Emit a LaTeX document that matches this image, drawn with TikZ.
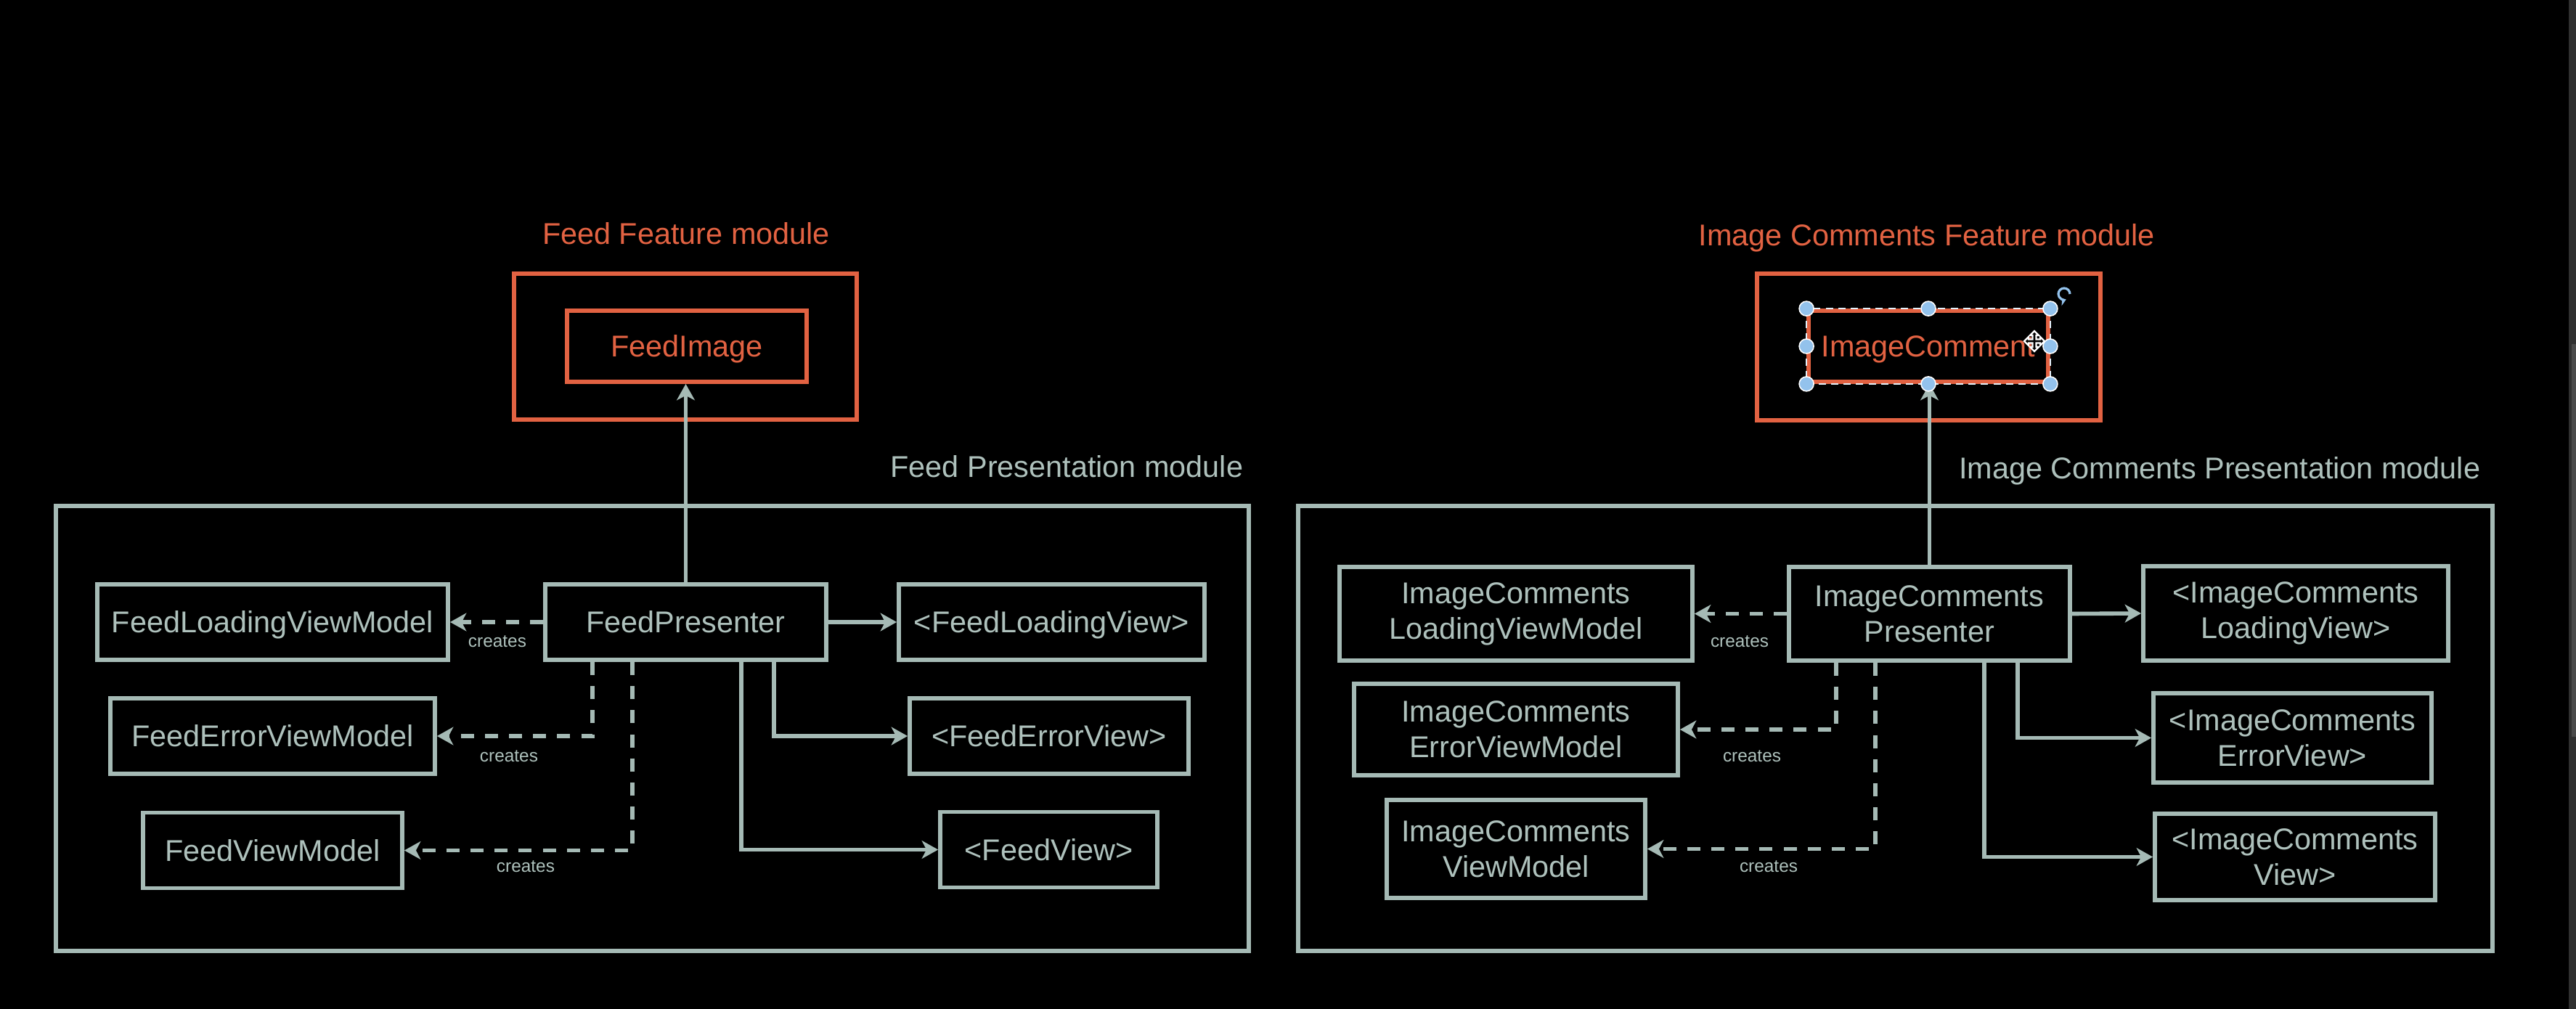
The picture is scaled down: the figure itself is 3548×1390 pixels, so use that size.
\documentclass[tikz,border=0pt]{standalone}
\usepackage{fontspec}
\setmainfont{Liberation Sans}
\usetikzlibrary{arrows.meta,calc}
\definecolor{lc}{HTML}{A5BAB5}
\definecolor{tc}{HTML}{AEC1BC}
\definecolor{oc}{HTML}{E26242}
\definecolor{hc}{HTML}{93C2EC}
\definecolor{sbar}{HTML}{303030}
\definecolor{sthumb}{HTML}{4A4A4A}
\begin{document}
\begin{tikzpicture}[x=0.25pt,y=-0.25pt,
  arrowhd/.style={-{Stealth[length=5.6pt,width=6.2pt,inset=1.6pt]}},
  conn/.style={draw=lc,line width=1.4pt,arrowhd},
  dconn/.style={conn,dash pattern=on 4.5pt off 3.8pt},
  cbox/.style={draw=lc,line width=1.45pt,text=tc,font=\fontsize{10.35}{12.25}\selectfont,align=center,inner sep=0pt},
  obox/.style={cbox,draw=oc,text=oc},
  oneline/.style={text height=7.4pt,text depth=0pt},
  crlbl/.style={text=tc,font=\fontsize{6.1}{7}\selectfont,inner sep=0pt},
  modlbl/.style={font=\fontsize{10.35}{12.25}\selectfont,inner sep=0pt},
  selhandle/.style={fill=hc,draw=white,line width=0.4pt},
]
\fill[black] (0,0) rectangle (3548,1390);
\useasboundingbox (0,0) rectangle (3548,1390);
\fill[sbar] (3538,0) rectangle (3548,1390);
\fill[sthumb] (3542,474) rectangle (3548,1015);

% ---------------- Left: Feed ----------------
\node[modlbl,text=oc,anchor=base] (FFlbl) at (945,337) {Feed Feature module};
\node[obox,minimum width=118pt,minimum height=50.25pt] (FFbox) at (944,477.5) {};
\node[obox,oneline,minimum width=82.5pt,minimum height=24.5pt] (FI) at (946,477) {FeedImage};
\node[modlbl,text=tc,anchor=base east] (FPlbl) at (1713,658) {Feed Presentation module};
\node[cbox,minimum width=410.75pt,minimum height=153.25pt] (FPbox) at (898.5,1003.5) {};

\node[cbox,oneline,minimum width=120.75pt,minimum height=26pt] (FLVM) at (375.5,857) {FeedLoadingViewModel};
\node[cbox,oneline,minimum width=96.75pt,minimum height=26pt] (FP) at (944.5,857) {FeedPresenter};
\node[cbox,oneline,minimum width=105.25pt,minimum height=26pt] (FLV) at (1448.5,857) {<FeedLoadingView>};
\node[cbox,oneline,minimum width=111.75pt,minimum height=26pt] (FEVM) at (375.5,1014) {FeedErrorViewModel};
\node[cbox,oneline,minimum width=96pt,minimum height=26pt] (FEV) at (1445,1014) {<FeedErrorView>};
\node[cbox,oneline,minimum width=89.25pt,minimum height=26pt] (FVM) at (375.5,1171.5) {FeedViewModel};
\node[cbox,oneline,minimum width=74.75pt,minimum height=26pt] (FV) at (1444.5,1170.5) {<FeedView>};

\draw[conn] (FP.north) -- (FP.north |- FI.south);
\draw[conn] (FP.east) -- (FLV.west);
\draw[dconn] (FP.west) -- (FLVM.east);
\draw[dconn] ($(FP.south west)+(68,0)$) |- (FEVM.east);
\draw[dconn] ($(FP.south west)+(123,0)$) |- (FVM.east);
\draw[conn] ($(FP.south west)+(273,0)$) |- (FV.west);
\draw[conn] ($(FP.south west)+(318,0)$) |- (FEV.west);

\node[crlbl] (c1) at (685,884) {creates};
\node[crlbl] (c2) at (701,1042) {creates};
\node[crlbl] (c3) at (724,1194) {creates};

% ---------------- Right: Image Comments ----------------
\node[modlbl,text=oc,anchor=base] (ICFlbl) at (2654,339) {Image Comments Feature module};
\node[obox,minimum width=118.25pt,minimum height=50.5pt] (ICFbox) at (2656.5,478) {};
\node[obox,oneline,minimum width=82.5pt,minimum height=24.5pt] (IC) at (2656,477) {ImageComment};
\node[modlbl,text=tc,anchor=base east] (ICPlbl) at (3417,660) {Image Comments Presentation module};
\node[cbox,minimum width=411.25pt,minimum height=153.25pt] (ICPbox) at (2610.5,1003.5) {};

\node[cbox,minimum width=121.5pt,minimum height=32.25pt] (ICLVM) at (2088,845.5) {ImageComments\\LoadingViewModel};
\node[cbox,minimum width=96.75pt,minimum height=32.25pt] (ICP) at (2657.5,845.5) {ImageComments\\Presenter};
\node[cbox,minimum width=105pt,minimum height=32.5pt] (ICLV) at (3162,845) {<ImageComments\\LoadingView>};
\node[cbox,minimum width=111.5pt,minimum height=31.5pt] (ICEVM) at (2088,1005) {ImageComments\\ErrorViewModel};
\node[cbox,minimum width=95.75pt,minimum height=30.75pt] (ICEV) at (3157.5,1016.5) {<ImageComments\\ErrorView>};
\node[cbox,minimum width=89pt,minimum height=33.75pt] (ICVM) at (2088,1169.5) {ImageComments\\ViewModel};
\node[cbox,minimum width=96.5pt,minimum height=29.75pt] (ICV) at (3161,1180.5) {<ImageComments\\View>};

\draw[conn] (ICP.north) -- (ICP.north |- IC.south);
\draw[conn] (ICP.east) -- (ICLV.west);
\draw[dconn] (ICP.west) -- (ICLVM.east);
\draw[dconn] ($(ICP.south west)+(68,0)$) |- (ICEVM.east);
\draw[dconn] ($(ICP.south west)+(122,0)$) |- (ICVM.east);
\draw[conn] ($(ICP.south west)+(272,0)$) |- (ICV.west);
\draw[conn] ($(ICP.south west)+(318,0)$) |- (ICEV.west);

\node[crlbl] (c4) at (2396,884) {creates};
\node[crlbl] (c5) at (2413,1042) {creates};
\node[crlbl] (c6) at (2436,1194) {creates};

% selection overlay on ImageComment
\draw[white!75!hc,line width=0.35pt,dash pattern=on 2.5pt off 1.8pt] (IC.north west) rectangle (IC.south east);
\foreach \a in {north west,north,north east,east,south east,south,south west,west}
  \draw[selhandle] (IC.\a) circle (2.5pt);
\coordinate (rot) at (2843,405);
\draw[hc,line width=0.8pt,-{Stealth[length=2.2pt,width=3pt]}] ($(rot)+(8,0)$) arc[start angle=0,end angle=290,radius=2pt];
\coordinate (cur) at (2802,470);
\begin{scope}[shift={(cur)}]
\draw[fill=black,draw=white,line width=0.6pt,line join=miter]
 (0,-14) -- (6,-8) -- (2.5,-8) -- (2.5,-2.5) -- (8,-2.5) -- (8,-6) -- (14,0) -- (8,6) -- (8,2.5) -- (2.5,2.5) -- (2.5,8) -- (6,8) -- (0,14) -- (-6,8) -- (-2.5,8) -- (-2.5,2.5) -- (-8,2.5) -- (-8,6) -- (-14,0) -- (-8,-6) -- (-8,-2.5) -- (-2.5,-2.5) -- (-2.5,-8) -- (-6,-8) -- cycle;
\end{scope}
\end{tikzpicture}
\end{document}
